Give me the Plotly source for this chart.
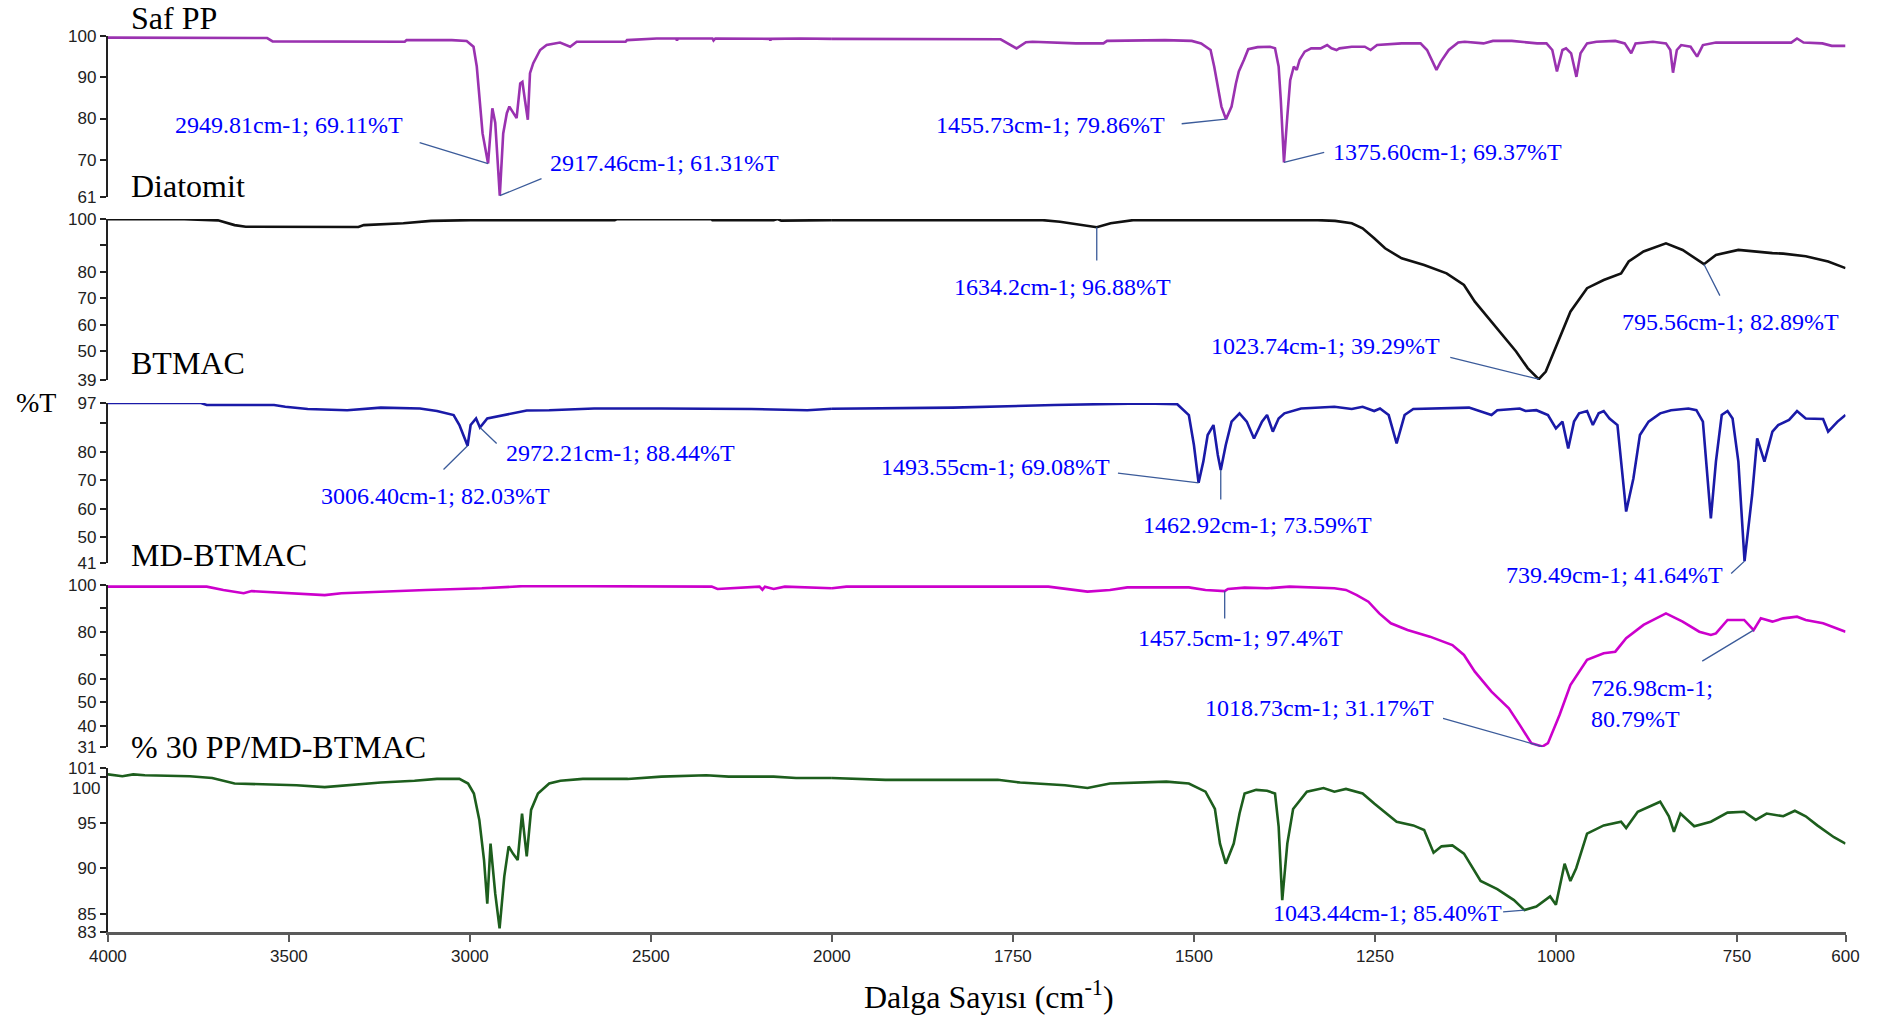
import plotly.graph_objects as go

# ---------------- data (wavenumber cm-1, %T) ----------------
pp_wn = [4000, 3700, 3560, 3545, 3300, 3180, 3175, 3050, 3009, 2990,
         2981, 2972, 2965, 2949.81, 2944, 2938, 2930, 2917.46, 2908, 2898,
         2891, 2880, 2871, 2861, 2855, 2848, 2840, 2834, 2825, 2806,
         2788, 2751, 2723, 2705, 2570, 2566, 2484, 2430, 2428, 2425,
         2330, 2327, 2322, 2172, 2170, 2168, 2087, 2000, 1905, 1767,
         1745, 1732, 1723, 1702, 1663, 1625, 1620, 1540, 1503, 1490,
         1477, 1472, 1468, 1462, 1455.73, 1448, 1442, 1438, 1431, 1425,
         1412, 1395, 1388, 1383, 1380, 1375.6, 1371, 1367, 1362, 1358,
         1354, 1347, 1338, 1325, 1316, 1310, 1303, 1299, 1282, 1264,
         1256, 1247, 1213, 1187, 1178, 1171, 1165, 1159, 1148, 1135,
         1126, 1100, 1087, 1061, 1039, 1026, 1013, 1005, 998.6, 991,
         986, 979, 971.7, 966, 957, 944, 918, 905, 896, 890,
         866, 848, 842, 838.3, 833, 827, 814, 805, 797, 779,
         675, 667, 658, 632, 619, 600]
pp_t = [99.6, 99.6, 99.5, 98.7, 98.6, 98.6, 99.0, 99.0, 98.8, 97.4,
        92.6, 84.5, 76.4, 69.11, 76.0, 82.5, 79.0, 61.31, 76.4, 81.3,
        82.9, 81.5, 80.1, 88.5, 88.9, 84.5, 79.7, 91.0, 93.4, 96.6,
        97.8, 98.4, 97.4, 98.6, 98.6, 99.0, 99.4, 99.4, 98.9, 99.4,
        99.4, 98.9, 99.4, 99.3, 98.9, 99.3, 99.4, 99.3, 99.2, 99.2,
        97.0, 98.5, 98.6, 98.4, 98.2, 98.2, 98.8, 99.0, 98.8, 98.2,
        96.6, 92.6, 88.5, 82.9, 79.86, 82.9, 88.5, 91.4, 94.2, 96.8,
        97.3, 97.4, 97.0, 92.6, 84.5, 69.37, 80.5, 89.3, 92.6, 91.8,
        94.2, 96.2, 97.0, 97.0, 97.8, 97.0, 96.6, 97.0, 97.4, 97.4,
        96.6, 97.8, 98.2, 98.2, 96.6, 93.8, 91.8, 93.8, 96.6, 98.4,
        98.6, 98.2, 98.8, 98.8, 98.4, 98.2, 98.2, 96.6, 91.4, 96.6,
        97.0, 95.8, 90.1, 95.8, 98.2, 98.6, 98.8, 98.2, 95.8, 98.2,
        98.6, 98.2, 96.6, 91.1, 96.6, 97.8, 97.4, 95.0, 97.8, 98.4,
        98.4, 99.4, 98.4, 98.2, 97.6, 97.6]

dia_wn = [4000, 3789, 3696, 3650, 3619, 3479, 3308, 3293, 3184, 3107,
          2998, 2690, 2688, 2686, 2600, 2595, 2332, 2330, 2161, 2150,
          2140, 2006, 2000, 1709, 1685, 1654, 1634.2, 1615, 1584, 1329,
          1305, 1282, 1267, 1251, 1236, 1213, 1182, 1151, 1127, 1112,
          1089, 1073, 1055, 1039, 1023.74, 1014, 999, 980, 957, 934,
          910, 899.5, 879, 848, 825, 795.56, 779, 748, 701, 686,
          655, 624, 600]
dia_t = [99.9, 99.9, 99.5, 97.7, 97.1, 97.0, 97.0, 97.7, 98.4, 99.3,
         99.6, 99.6, 100.0, 99.6, 99.6, 99.9, 99.9, 99.6, 99.6, 100.0,
         99.4, 99.6, 99.6, 99.6, 99.0, 97.7, 96.88, 98.4, 99.6, 99.6,
         99.3, 98.4, 96.5, 92.7, 88.9, 85.1, 82.6, 79.4, 75.0, 68.7,
         61.1, 56.1, 49.8, 43.5, 39.29, 42.2, 52.3, 64.9, 73.8, 76.9,
         79.4, 83.9, 87.7, 90.8, 88.3, 82.89, 86.4, 88.3, 87.1, 86.9,
         85.9, 83.9, 81.4]

bt_wn = [4000, 3743, 3727, 3541, 3510, 3448, 3339, 3246, 3138, 3091,
         3045, 3029, 3006.4, 2998, 2983, 2972.21, 2952, 2905, 2843, 2781,
         2657, 2471, 2347, 2223, 2068, 2000, 1926, 1833, 1693, 1569,
         1523, 1507, 1500, 1493.55, 1487, 1481, 1473, 1467, 1462.92, 1456,
         1448, 1437, 1427, 1417, 1406, 1399, 1391, 1383, 1375, 1352,
         1306, 1282, 1267, 1251, 1243, 1231, 1220, 1209, 1197, 1151,
         1120, 1089, 1081, 1050, 1042, 1027, 1011, 1000, 991, 983,
         975, 968, 957, 949, 941, 934, 926, 915, 903, 893,
         884, 872, 856, 841, 817, 806, 797, 786, 779, 771,
         763, 756, 748, 739.49, 729, 722, 712, 701, 693, 678,
         667, 655, 631, 624, 611, 600]
bt_t = [97.0, 97.0, 96.3, 96.3, 95.7, 94.9, 94.5, 95.4, 95.1, 94.2,
        92.8, 89.3, 82.03, 89.3, 91.6, 88.44, 91.6, 92.8, 94.4, 94.5,
        95.1, 95.1, 95.1, 94.9, 94.5, 95.0, 95.1, 95.4, 96.3, 96.9,
        96.6, 92.8, 82.3, 69.08, 76.5, 85.8, 89.3, 78.8, 73.59, 82.3,
        90.5, 93.4, 90.5, 84.6, 90.5, 92.8, 87.0, 91.6, 93.4, 95.1,
        95.7, 94.9, 95.7, 94.2, 95.1, 92.8, 82.9, 92.8, 94.9, 95.1,
        95.4, 92.8, 94.5, 95.1, 94.2, 94.5, 92.8, 88.1, 90.5, 81.1,
        90.5, 93.4, 94.2, 89.3, 93.4, 94.2, 91.6, 89.3, 59.0, 70.6,
        85.8, 90.5, 93.4, 94.5, 95.1, 94.5, 90.5, 56.6, 76.5, 92.8,
        94.2, 91.6, 76.5, 41.64, 64.8, 84.6, 76.5, 87.0, 89.3, 91.1,
        94.2, 91.6, 91.4, 87.0, 90.5, 92.8]

md_wn = [4000, 3727, 3681, 3625, 3603, 3510, 3401, 3355, 3215, 3122,
         2967, 2843, 2332, 2316, 2200, 2192, 2185, 2161, 2130, 2006,
         2000, 1980, 1701, 1678, 1647, 1616, 1592, 1507, 1484, 1457.5,
         1453, 1430, 1399, 1368, 1337, 1306, 1290, 1275, 1259, 1244,
         1228, 1205, 1174, 1143, 1127, 1112, 1089, 1065, 1050, 1034,
         1018.73, 1011, 995, 980, 957, 934, 918, 903, 879, 848,
         825, 802, 786, 779, 763, 740, 726.98, 717, 701, 686,
         667, 655, 631, 608, 600]
md_t = [99.3, 99.3, 97.9, 96.5, 97.4, 96.5, 95.7, 96.5, 97.4, 97.9,
        98.6, 99.6, 99.3, 98.3, 99.3, 98.0, 99.3, 98.3, 99.3, 98.6,
        98.6, 99.3, 99.3, 98.3, 97.2, 97.9, 99.0, 99.0, 97.9, 97.4,
        98.3, 98.9, 98.6, 99.3, 98.9, 98.6, 97.9, 95.7, 92.9, 87.9,
        83.7, 80.8, 78.0, 74.4, 70.2, 63.1, 54.6, 47.5, 40.4, 32.6,
        31.17, 32.6, 44.6, 57.4, 68.1, 70.9, 71.6, 77.3, 83.0, 87.9,
        84.4, 80.1, 78.7, 79.4, 85.1, 85.1, 80.79, 85.8, 84.4, 85.8,
        86.5, 85.1, 83.7, 80.8, 80.1]

ppmd_wn = [4000, 3960, 3930, 3898, 3774, 3712, 3650, 3557, 3479, 3401,
           3339, 3246, 3153, 3091, 3029, 3005, 2989, 2974, 2961, 2952,
           2943, 2930, 2918, 2905, 2893, 2881, 2868, 2856, 2843, 2831,
           2812, 2781, 2750, 2688, 2564, 2471, 2347, 2285, 2161, 2099,
           2000, 1926, 1771, 1740, 1678, 1647, 1616, 1538, 1507, 1484,
           1471, 1464, 1456, 1445, 1437, 1430, 1414, 1399, 1388, 1383,
           1378, 1371, 1363, 1344, 1321, 1306, 1290, 1267, 1251, 1220,
           1197, 1182, 1169, 1158, 1143, 1127, 1104, 1081, 1058, 1043.44,
           1027, 1008, 1000, 988, 980, 972, 957, 934, 910, 903,
           887, 856, 844, 837, 828, 809, 786, 763, 740, 724,
           709, 686, 670, 655, 639, 616, 600]
ppmd_t = [100.3, 100.1, 100.3, 100.2, 100.1, 99.9, 99.3, 99.2, 99.1, 98.9,
          99.1, 99.4, 99.6, 99.8, 99.8, 99.3, 98.2, 95.3, 90.9, 86.1,
          92.7, 87.2, 83.4, 89.1, 92.4, 91.6, 90.9, 96.0, 91.3, 96.4,
          98.2, 99.3, 99.6, 99.8, 99.8, 100.05, 100.2, 100.05, 100.05, 99.9,
          99.9, 99.7, 99.7, 99.4, 99.1, 98.8, 99.3, 99.5, 99.3, 98.4,
          96.5, 92.7, 90.5, 92.7, 96.0, 98.2, 98.6, 98.5, 98.2, 94.6,
          86.5, 92.7, 96.5, 98.4, 98.8, 98.4, 98.7, 98.2, 97.1, 95.1,
          94.7, 94.2, 91.7, 92.4, 92.5, 91.6, 88.6, 87.7, 86.5, 85.40,
          85.8, 86.9, 86.0, 90.5, 88.6, 90.0, 93.8, 94.7, 95.1, 94.4,
          96.2, 97.3, 95.7, 94.0, 96.0, 94.6, 95.1, 96.1, 96.2, 95.3,
          96.0, 95.7, 96.3, 95.7, 94.7, 93.4, 92.7]

series_names = ["Saf PP", "Diatomit", "BTMAC", "MD-BTMAC", "% 30 PP/MD-BTMAC"]
series_wn = [pp_wn, dia_wn, bt_wn, md_wn, ppmd_wn]
series_t = [pp_t, dia_t, bt_t, md_t, ppmd_t]

y_ranges = [[61, 100], [39, 100], [41, 97], [31, 100], [83, 101]]
y_tickvals = [[61, 70, 80, 90, 100],
              [39, 50, 60, 70, 80, 90, 100],
              [41, 50, 60, 70, 80, 90, 97],
              [31, 40, 50, 60, 70, 80, 90, 100],
              [83, 85, 90, 95, 100, 101]]
y_ticktext = [["61", "70", "80", "90", "100"],
              ["39", "50", "60", "70", "80", "", "100"],
              ["41", "50", "60", "70", "80", "", "97"],
              ["31", "40", "50", "60", "", "80", "", "100"],
              ["83", "85", "90", "95", "", "101"]]
x_ticks_left = [4000, 3500, 3000, 2500, 2000]
x_ticks_right = [1750, 1500, 1250, 1000, 750, 600]

# peak labels (data)
peak_wn_txt = ["2949.81", "2917.46", "1455.73", "1375.60", "1634.2", "1023.74", "795.56",
               "2972.21", "3006.40", "1493.55", "1462.92", "739.49", "1457.5", "1018.73",
               "726.98", "1043.44"]
peak_t_txt = ["69.11", "61.31", "79.86", "69.37", "96.88", "39.29", "82.89",
              "88.44", "82.03", "69.08", "73.59", "41.64", "97.4", "31.17",
              "80.79", "85.40"]
peak_panel = [1, 1, 1, 1, 2, 2, 2, 3, 3, 3, 3, 3, 4, 4, 4, 5]

# ---------------- layout / styling ----------------
W, H = 1883, 1016
XD_LEFT = [0.0573, 0.4418]
XD_RIGHT = [0.4418, 0.9801]
panel_domains = [[0.8061, 0.9646], [0.6260, 0.7844], [0.4459, 0.6033],
                 [0.2648, 0.4242], [0.0827, 0.2441]]
colors = ["#9a32b0", "#111111", "#1a1aa8", "#cc00cc", "#1d5e1d"]
label_y_px = [18, 186, 363, 555, 747]

# label positions (wavenumber, %T) in each panel, anchor, and leader tail
lab_wn = [3179, 2784, 1537, 1310, 1682, 1158, 912, 2905, 3094, 1613, 1412, 767, 1436, 1166, 954, 1072]
lab_t = [78.45, 69.25, 78.45, 71.9, 74.2, 51.9, 61.0, 79.5, 64.4, 74.6, 54.3, 36.8, 77.4, 47.6, 49.6, 85.1]
lab_anchor = ["right", "left", "right", "left", "center", "right", "left", "left", "center",
              "right", "center", "right", "center", "right", "left", "right"]
tail_wn = [3143, 2798, 1519, 1318, 1634.2, 1148, 772.5, 2922, 3077, 1607, 1462.92, 760, 1457.5, 1158, 800, 1075]
tail_t = [74.3, 65.6, 78.7, 71.9, 83.7, 47.7, 70.4, 82.3, 73.2, 72.5, 62.7, 36.8, 85.1, 43.4, 67.2, 85.2]

SERIF = "Liberation Serif, Times New Roman, serif"
SANS = "Liberation Sans, Arial, sans-serif"


def yname(i):
    return "y" if i == 0 else "y%d" % (i + 1)


def xref_for(w):
    return "x" if w >= 2000 else "x2"


fig = go.Figure()
for i in range(5):
    wn, t = series_wn[i], series_t[i]
    left = [(w, v) for w, v in zip(wn, t) if w >= 2000]
    right = [(w, v) for w, v in zip(wn, t) if w <= 2000]
    for pts, xa in ((left, "x"), (right, "x2")):
        fig.add_trace(go.Scatter(
            x=[p[0] for p in pts], y=[p[1] for p in pts],
            xaxis=xa, yaxis=yname(i), mode="lines",
            line=dict(color=colors[i], width=2.6),
            name=series_names[i], showlegend=False, hoverinfo="skip"))

layout = dict(
    template="none",
    width=W, height=H, autosize=False,
    margin=dict(l=0, r=0, t=0, b=0, pad=0, autoexpand=False),
    plot_bgcolor="white", paper_bgcolor="white",
    showlegend=False,
)
common_x = dict(showgrid=False, zeroline=False, showline=True, linecolor="#5a5a5a",
                linewidth=3, ticks="outside", ticklen=7, tickwidth=1.5, tickcolor="#5a5a5a",
                tickfont=dict(family=SANS, size=17, color="#222222"), anchor="y5",
                fixedrange=True, automargin=False)
layout["xaxis"] = dict(domain=XD_LEFT, range=[4000, 2000], tickvals=x_ticks_left,
                       ticktext=[str(v) for v in x_ticks_left], **common_x)
layout["xaxis2"] = dict(domain=XD_RIGHT, range=[2000, 600], tickvals=x_ticks_right,
                        ticktext=[str(v) for v in x_ticks_right], **common_x)
for i in range(5):
    key = "yaxis" if i == 0 else "yaxis%d" % (i + 1)
    layout[key] = dict(domain=panel_domains[i], range=y_ranges[i], anchor="x",
                       tickvals=y_tickvals[i], ticktext=y_ticktext[i],
                       showline=True, linecolor="#222222", linewidth=2,
                       ticks="outside", ticklen=6, tickwidth=1.5, tickcolor="#222222",
                       showgrid=False, zeroline=False, fixedrange=True, automargin=False,
                       tickfont=dict(family=SANS, size=17, color="#222222"))

annotations = []
# panel titles
for i in range(5):
    annotations.append(dict(text=series_names[i], xref="paper", yref="paper",
                            x=129 / W, y=1 - label_y_px[i] / H, xanchor="left", yanchor="middle",
                            showarrow=False, font=dict(family=SERIF, size=32, color="#000000")))

# peak labels + leader lines
for k in range(len(peak_wn_txt)):
    p = peak_panel[k] - 1
    pw, pt = float(peak_wn_txt[k]), float(peak_t_txt[k])
    yr = yname(p)
    xr = xref_for(pw)
    annotations.append(dict(text="", x=pw, y=pt, xref=xr, yref=yr,
                            ax=tail_wn[k], ay=tail_t[k], axref=xr, ayref=yr,
                            showarrow=True, arrowhead=0, arrowwidth=1.3,
                            arrowcolor="#3b5b9a", standoff=0, startstandoff=0))
    txt = "%scm-1; %s%%T" % (peak_wn_txt[k], peak_t_txt[k])
    if peak_wn_txt[k] == "726.98":
        txt = "%scm-1;<br>%s%%T" % (peak_wn_txt[k], peak_t_txt[k])
    ty = lab_t[k]
    yshift = 0
    lo, hi = y_ranges[p]
    if ty < lo:
        dom = panel_domains[p]
        ppu = (dom[1] - dom[0]) * H / (hi - lo)
        yshift = -(lo - ty) * ppu
        ty = lo
    annotations.append(dict(text=txt, x=lab_wn[k], y=ty, xref=xref_for(lab_wn[k]), yref=yr,
                            xanchor=lab_anchor[k], yanchor="middle", yshift=yshift,
                            align="left", showarrow=False,
                            font=dict(family=SERIF, size=24, color="#0000ff")))

# '100' label of bottom panel (stacked under 101 as in the original)
annotations.append(dict(text="100", xref="paper", yref="y5", x=101.5 / W, y=100,
                        xanchor="right", yanchor="middle", yshift=-11, showarrow=False,
                        font=dict(family=SANS, size=17, color="#222222")))
# axis titles
annotations.append(dict(text="%T", xref="paper", yref="paper", x=36 / W, y=1 - 403 / H,
                        xanchor="center", yanchor="middle", showarrow=False,
                        font=dict(family=SERIF, size=28, color="#000000")))
annotations.append(dict(text="Dalga Sayısı (cm<sup>-1</sup>)", xref="paper", yref="paper",
                        x=989 / W, y=1 - 995 / H, xanchor="center", yanchor="middle",
                        showarrow=False, font=dict(family=SERIF, size=32, color="#000000")))

layout["annotations"] = annotations
fig.update_layout(**layout)

fig.write_html("out.html", include_plotlyjs=True, full_html=True,
               config={"displayModeBar": False})
